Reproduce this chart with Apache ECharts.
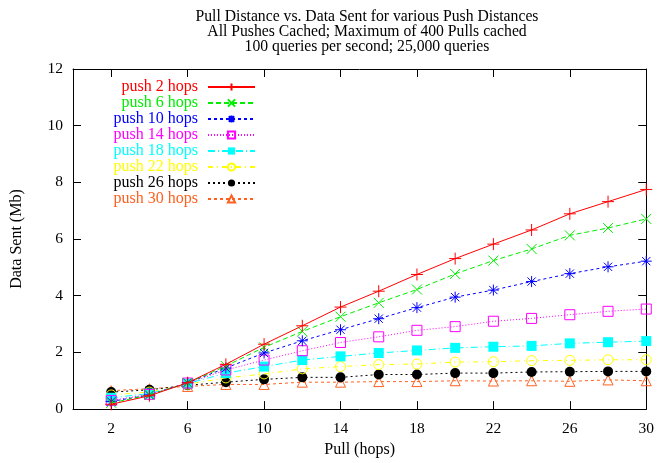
<!DOCTYPE html>
<html>
<head>
<meta charset="utf-8">
<script src="https://cdn.jsdelivr.net/npm/echarts@6/dist/echarts.min.js"></script>
<style>html,body{margin:0;padding:0;background:#fff}#c{width:657px;height:463px}</style>
</head>
<body>
<div id="c"></div>
<script>
var pullHops = [2, 4, 6, 8, 10, 12, 14, 16, 18, 20, 22, 24, 26, 28, 30];
var xTickValues = [2, 6, 10, 14, 18, 22, 26, 30];
var seriesNames = ['push 2 hops', 'push 6 hops', 'push 10 hops', 'push 14 hops', 'push 18 hops', 'push 22 hops', 'push 26 hops', 'push 30 hops'];
var push2  = [0.17, 0.47, 0.93, 1.58, 2.29, 2.94, 3.60, 4.16, 4.75, 5.31, 5.82, 6.32, 6.89, 7.32, 7.75];
var push6  = [0.22, 0.50, 0.92, 1.52, 2.18, 2.74, 3.26, 3.75, 4.22, 4.77, 5.24, 5.65, 6.13, 6.39, 6.71];
var push10 = [0.27, 0.50, 0.93, 1.45, 1.98, 2.41, 2.80, 3.19, 3.58, 3.95, 4.20, 4.50, 4.78, 5.02, 5.22];
var push14 = [0.30, 0.52, 0.92, 1.38, 1.73, 2.06, 2.35, 2.55, 2.78, 2.91, 3.10, 3.20, 3.33, 3.45, 3.53];
var push18 = [0.40, 0.55, 0.90, 1.27, 1.50, 1.73, 1.86, 1.98, 2.07, 2.16, 2.20, 2.23, 2.32, 2.36, 2.40];
var push22 = [0.50, 0.60, 0.88, 1.10, 1.24, 1.42, 1.50, 1.57, 1.59, 1.66, 1.67, 1.71, 1.72, 1.74, 1.74];
var push26 = [0.60, 0.68, 0.84, 0.95, 1.05, 1.12, 1.12, 1.22, 1.22, 1.27, 1.27, 1.31, 1.32, 1.33, 1.33];
var push30 = [0.65, 0.72, 0.80, 0.87, 0.87, 0.95, 0.95, 0.97, 0.97, 1.00, 0.99, 1.00, 0.98, 1.03, 1.00];
var allValues = [push2, push6, push10, push14, push18, push22, push26, push30];

var colors = ['#ff0000', '#00ee00', '#0000ff', '#ff00ff', '#00ffff', '#ffff00', '#000000', '#ff6020'];
var dashes = ['solid', [5, 3], [3, 3], [1, 2], [7, 3, 1, 3], [5, 4, 1, 4], [2, 3], [3, 3]];
var PLUS = 'path://M-1,0L1,0M0,-1L0,1';
var CROSS = 'path://M-1,-1L1,1M-1,1L1,-1';
var STAR = 'path://M-1,0L1,0M0,-1L0,1M-0.75,-0.75L0.75,0.75M-0.75,0.75L0.75,-0.75';
var markers = [
  {symbol: PLUS, fill: false, size: 12},
  {symbol: CROSS, fill: false, size: 10},
  {symbol: STAR, fill: false, size: 11},
  {symbol: 'rect', fill: false, size: 10},
  {symbol: 'rect', fill: true, size: 10},
  {symbol: 'circle', fill: false, size: 10},
  {symbol: 'circle', fill: true, size: 10},
  {symbol: 'triangle', fill: false, size: 10}
];
var FONT = 'Liberation Serif';

var series = seriesNames.map(function (name, i) {
  var m = markers[i];
  return {
    name: name,
    type: 'line',
    data: pullHops.map(function (x, j) { return [x, allValues[i][j]]; }),
    symbol: m.symbol,
    symbolSize: m.size,
    showSymbol: true,
    lineStyle: {color: colors[i], width: 1, type: dashes[i]},
    itemStyle: {
      color: m.fill ? colors[i] : 'rgba(0,0,0,0)',
      borderColor: colors[i],
      borderWidth: m.fill ? 0 : 1
    },
    emphasis: {disabled: true},
    z: 10 - i,
    animation: false
  };
});

var richStyles = {};
colors.forEach(function (c, i) {
  richStyles['s' + i] = {color: c, fontSize: 16, fontFamily: FONT, width: 88, align: 'right', padding: [0, 5, 0, 0]};
});

var chart = echarts.init(document.getElementById('c'), null, {renderer: 'canvas'});
var axisCommon = {
  axisLine: {show: true, onZero: false, lineStyle: {color: '#000', width: 1}},
  splitLine: {show: false}
};
chart.setOption({
  animation: false,
  backgroundColor: '#fff',
  textStyle: {fontFamily: FONT},
  title: {
    text: 'Pull Distance vs. Data Sent for various Push Distances\nAll Pushes Cached; Maximum of 400 Pulls cached\n100 queries per second; 25,000 queries',
    left: 362,
    top: 4,
    textAlign: 'center',
    textStyle: {fontFamily: FONT, fontSize: 15.7, fontWeight: 'normal', color: '#000', lineHeight: 15.3}
  },
  legend: {
    orient: 'vertical',
    left: 110,
    top: 79,
    padding: 0,
    align: 'right',
    itemWidth: 47,
    itemHeight: 9,
    itemGap: 0,
    selectedMode: false,
    formatter: function (name) {
      var i = seriesNames.indexOf(name);
      return '{s' + i + '|' + name + '}';
    },
    textStyle: {fontSize: 16, fontFamily: FONT, rich: richStyles, lineHeight: 15.8},
    data: seriesNames
  },
  grid: {left: 73, right: 7, top: 69, bottom: 52, containLabel: false},
  xAxis: [
    Object.assign({
      type: 'value', min: 0, max: 30, position: 'bottom',
      name: 'Pull (hops)', nameLocation: 'middle', nameGap: 30,
      nameTextStyle: {fontFamily: FONT, fontSize: 16, color: '#000'},
      axisTick: {show: true, inside: true, length: 8, lineStyle: {color: '#000'}, customValues: xTickValues},
      axisLabel: {show: true, color: '#000', fontFamily: FONT, fontSize: 15.5, margin: 12, customValues: xTickValues}
    }, axisCommon),
    Object.assign({
      type: 'value', min: 0, max: 30, position: 'top',
      axisTick: {show: true, inside: true, length: 8, lineStyle: {color: '#000'}, customValues: xTickValues},
      axisLabel: {show: false}
    }, axisCommon)
  ],
  yAxis: [
    Object.assign({
      type: 'value', min: 0, max: 12, interval: 2, position: 'left',
      name: 'Data Sent (Mb)', nameLocation: 'middle', nameGap: 48, nameRotate: 90,
      nameTextStyle: {fontFamily: FONT, fontSize: 16, color: '#000'},
      axisTick: {show: true, inside: true, length: 8, lineStyle: {color: '#000'}},
      axisLabel: {show: true, color: '#000', fontFamily: FONT, fontSize: 15.5, margin: 10}
    }, axisCommon),
    Object.assign({
      type: 'value', min: 0, max: 12, interval: 2, position: 'right',
      axisTick: {show: true, inside: true, length: 8, lineStyle: {color: '#000'}},
      axisLabel: {show: false}
    }, axisCommon)
  ],
  series: series
});
</script>
</body>
</html>
